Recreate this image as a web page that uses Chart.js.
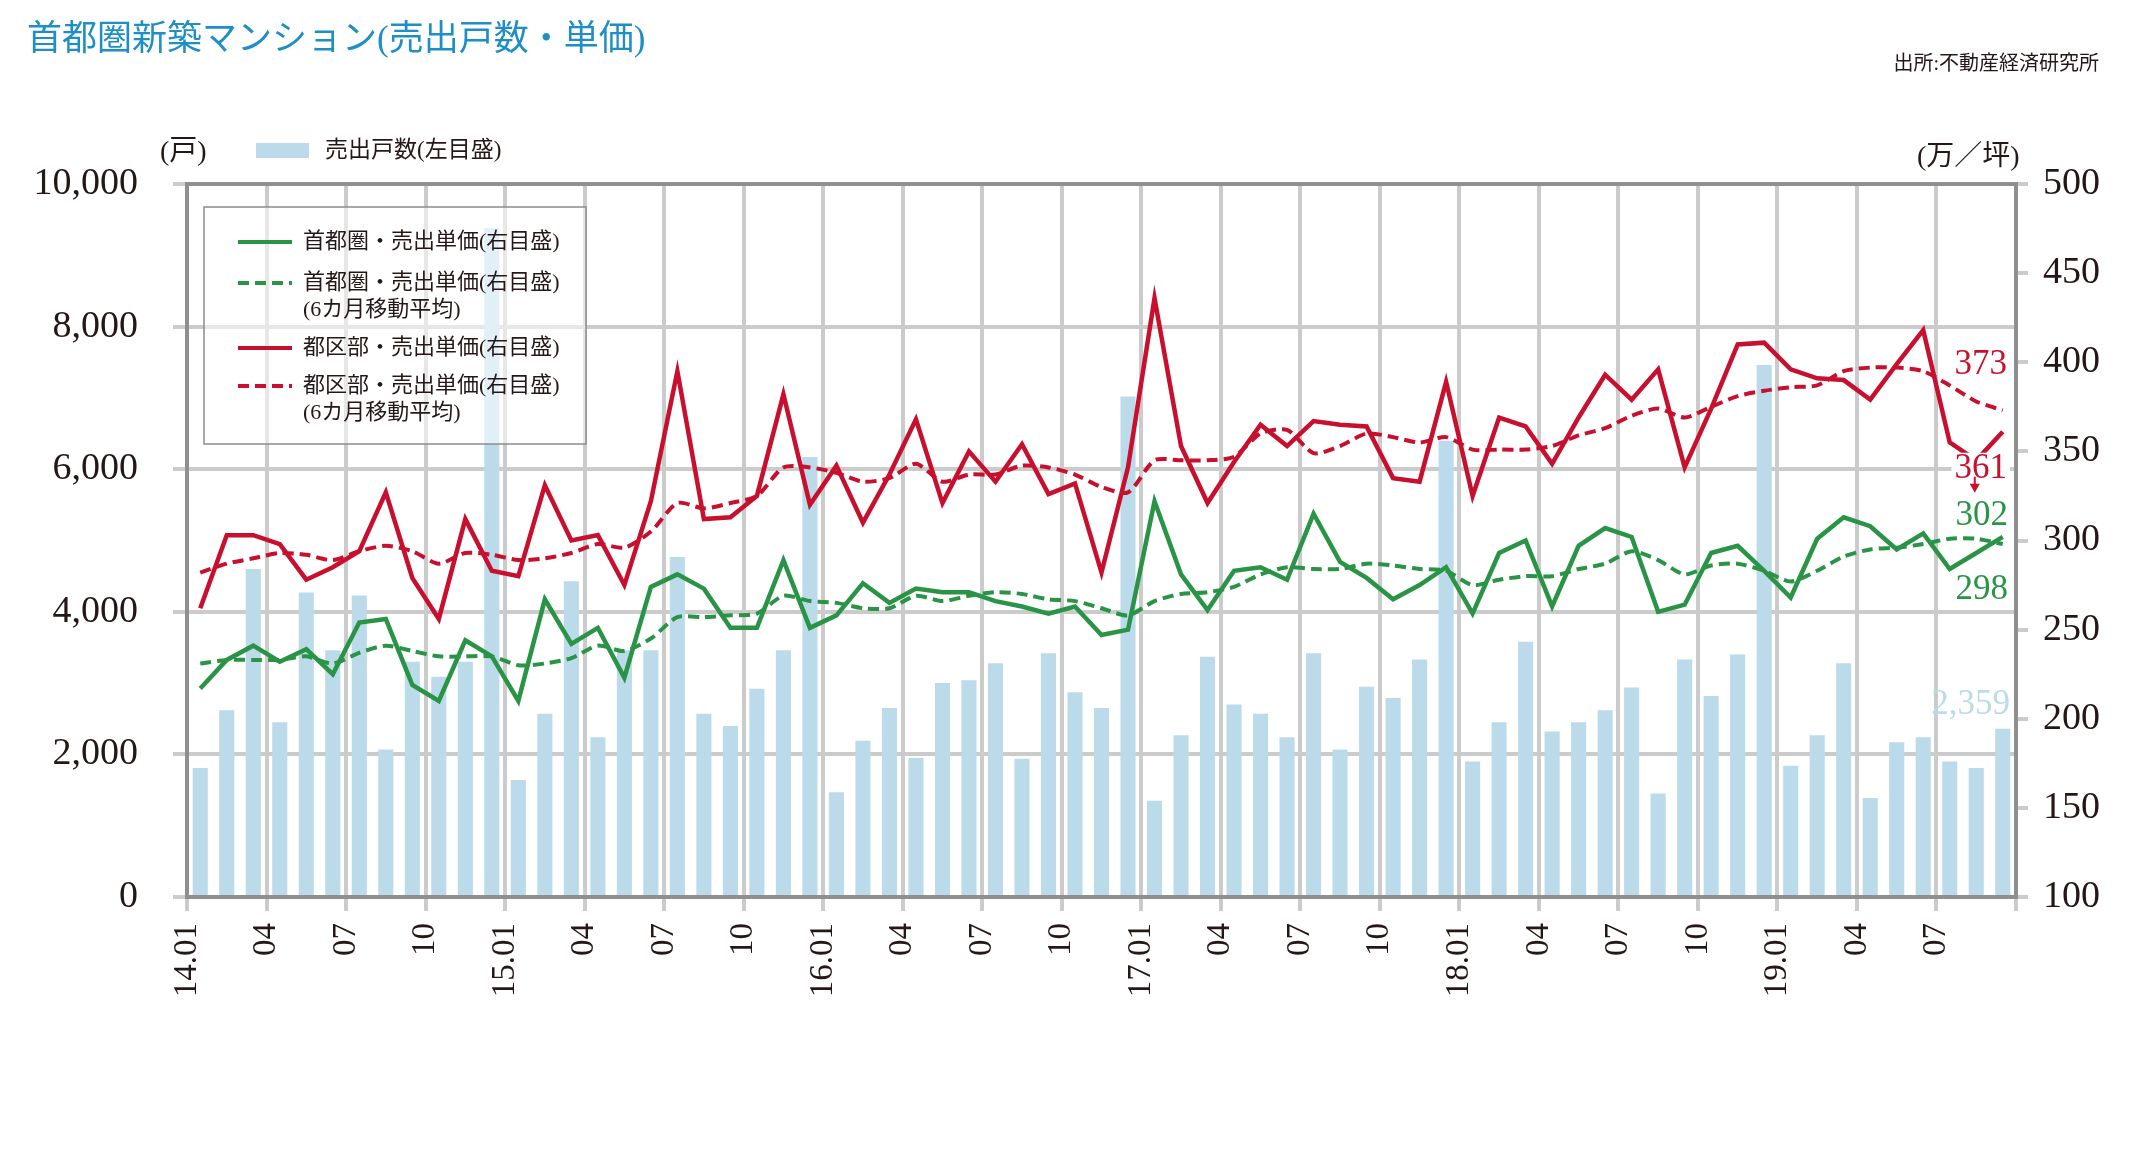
<!DOCTYPE html>
<html lang="ja">
<head>
<meta charset="utf-8">
<title>首都圏新築マンション(売出戸数・単価)</title>
<script src="https://cdn.jsdelivr.net/npm/chart.js@4.4.1/dist/chart.umd.min.js"></script>
<style>
  body { margin: 0; background: #fff; }
  canvas { display: block; }
</style>
</head>
<body>
<canvas id="chart" width="2130" height="1150"></canvas>
<script>
// months 2014.01 - 2019.09
const months = [
  '14.01','14.02','14.03','14.04','14.05','14.06','14.07','14.08','14.09','14.10','14.11','14.12',
  '15.01','15.02','15.03','15.04','15.05','15.06','15.07','15.08','15.09','15.10','15.11','15.12',
  '16.01','16.02','16.03','16.04','16.05','16.06','16.07','16.08','16.09','16.10','16.11','16.12',
  '17.01','17.02','17.03','17.04','17.05','17.06','17.07','17.08','17.09','17.10','17.11','17.12',
  '18.01','18.02','18.03','18.04','18.05','18.06','18.07','18.08','18.09','18.10','18.11','18.12',
  '19.01','19.02','19.03','19.04','19.05','19.06','19.07','19.08','19.09'
];
// one label every third month
const tickLabels = ['14.01','04','07','10','15.01','04','07','10','16.01','04','07','10',
  '17.01','04','07','10','18.01','04','07','10','19.01','04','07'];

// 売出戸数 (戸)
const units = [
  1810,2620,4600,2450,4270,3460,4230,2070,3300,3090,3300,9380,
  1640,2570,4430,2240,3460,3460,4770,2570,2400,2920,3460,6170,
  1470,2190,2650,1950,3000,3040,3280,1940,3420,2870,2650,7020,
  1350,2270,3370,2700,2570,2240,3420,2070,2950,2790,3330,6400,
  1900,2450,3580,2320,2450,2620,2940,1450,3330,2820,3400,7460,
  1840,2270,3280,1390,2170,2240,1900,1810,2359
];
// 首都圏・売出単価 (万/坪)
const metroPrice = [
  217,233,241,232,239,225,254,256,219,210,244,235,
  210,267,242,251,223,274,281,273,251,251,289,251,
  258,276,265,273,271,271,266,263,259,263,247,250,
  322,281,261,283,285,278,315,288,279,267,275,285,
  259,293,300,263,297,307,302,260,264,293,297,283,
  268,301,313,308,295,304,284,293,302
];
// 首都圏・売出単価 6カ月移動平均
const metroAvg = [
  231,233,233,233,235,231,237,241,238,235,235,235,
  230,231,234,241,238,245,257,257,258,259,269,266,
  265,262,262,269,266,269,271,270,267,266,262,258,
  266,270,271,274,281,285,284,284,287,286,284,283,
  275,278,280,280,284,287,294,289,281,286,287,283,
  277,283,291,295,296,298,301,301,298
];
// 都区部・売出単価 (万/坪)
const wardPrice = [
  262,303,303,298,278,285,294,327,279,256,312,283,
  280,331,300,303,275,322,395,312,313,325,382,320,
  342,310,337,368,321,350,333,354,326,332,282,341,
  436,353,321,344,365,353,367,365,364,335,333,389,
  325,369,364,343,369,393,379,396,341,374,410,411,
  396,391,390,379,399,418,355,345,361
];
// 都区部・売出単価 6カ月移動平均
const wardAvg = [
  282,287,290,293,292,289,294,297,294,287,293,292,
  289,290,293,298,296,305,321,318,321,325,341,341,
  338,333,335,343,333,337,337,342,341,337,330,327,
  345,345,345,347,360,362,349,353,360,358,355,358,
  351,351,351,353,359,363,370,374,369,375,381,384,
  386,387,395,397,397,395,387,378,373
];

const FONT = '"Liberation Serif", "Noto Sans CJK JP", serif';
const TEXT = '#231815';
const GREEN = '#2a9446';
const RED = '#c8102e';
const BAR = '#bcdbea';
const GRID = '#cbcbcb';
const DASH = [11, 6];

function pts(arr) {
  return arr.map((v, i) => ({ x: i + 0.5, y: v }));
}

const decor = {
  id: 'decor',
  beforeDraw(chart) {
    const ctx = chart.ctx;
    ctx.save();
    ctx.fillStyle = '#fff';
    ctx.fillRect(0, 0, chart.width, chart.height);
    ctx.restore();
  },
  afterDatasetsDraw(chart) {
    const ctx = chart.ctx, a = chart.chartArea;
    ctx.save();

    // legend box inside the plot
    ctx.fillStyle = 'rgba(255,255,255,0.55)';
    ctx.fillRect(204, 207, 382, 237);
    ctx.strokeStyle = '#8c8c8c';
    ctx.lineWidth = 1.5;
    ctx.strokeRect(204, 207, 382, 237);
    const rows = [
      { color: GREEN, dash: [], y: 242, lines: ['首都圏・売出単価(右目盛)'] },
      { color: GREEN, dash: DASH, y: 283, lines: ['首都圏・売出単価(右目盛)', '(6カ月移動平均)'] },
      { color: RED, dash: [], y: 348, lines: ['都区部・売出単価(右目盛)'] },
      { color: RED, dash: DASH, y: 386, lines: ['都区部・売出単価(右目盛)', '(6カ月移動平均)'] }
    ];
    ctx.font = '22px ' + FONT;
    ctx.textBaseline = 'middle';
    rows.forEach(r => {
      ctx.strokeStyle = r.color;
      ctx.lineWidth = 4;
      ctx.setLineDash(r.dash);
      ctx.beginPath();
      ctx.moveTo(238, r.y);
      ctx.lineTo(292, r.y);
      ctx.stroke();
      ctx.setLineDash([]);
      ctx.fillStyle = TEXT;
      r.lines.forEach((t, k) => ctx.fillText(t, 303, r.y + k * 27));
    });

    // plot frame
    ctx.strokeStyle = '#8f8f8f';
    ctx.lineWidth = 4;
    ctx.strokeRect(a.left, a.top, a.right - a.left, a.bottom - a.top);

    // latest values
    const last = (idx) => chart.getDatasetMeta(idx).data[units.length - 1];
    ctx.font = '35px ' + FONT;
    ctx.textAlign = 'right';
    const tx = a.right - 9;
    const pRA = last(4), pR = last(3), pG = last(1), pGA = last(2), pB = last(0);

    ctx.fillStyle = RED;
    ctx.fillText(String(wardAvg[wardAvg.length - 1]), tx, pRA.y - 46);

    const y361 = pR.y + 37;
    const w361 = ctx.measureText('361').width;
    ctx.fillStyle = '#fff';
    ctx.fillRect(tx - w361 - 3, y361 - 16, w361 + 6, 32);
    ctx.fillStyle = RED;
    ctx.fillText(String(wardPrice[wardPrice.length - 1]), tx, y361);
    // small arrow under 361
    const ax = tx - w361 / 2 - 6, ay = pR.y + 57;
    ctx.beginPath();
    ctx.moveTo(ax - 5, ay - 5);
    ctx.lineTo(ax + 5, ay - 5);
    ctx.lineTo(ax, ay + 4);
    ctx.closePath();
    ctx.fill();
    ctx.fillRect(ax - 1, ay - 12, 2, 8);

    ctx.fillStyle = GREEN;
    ctx.fillText(String(metroPrice[metroPrice.length - 1]), tx + 1, pG.y - 21);
    ctx.fillText(String(metroAvg[metroAvg.length - 1]), tx + 1, pGA.y + 46);

    ctx.fillStyle = BAR;
    ctx.fillText(units[units.length - 1].toLocaleString('en-US'), tx + 3, pB.y - 24);
    ctx.restore();
  },
  afterDraw(chart) {
    const ctx = chart.ctx;
    ctx.save();
    ctx.textBaseline = 'middle';

    ctx.fillStyle = '#1e8fc6';
    ctx.font = '35px ' + FONT;
    ctx.fillText('首都圏新築マンション(売出戸数・単価)', 27, 41);

    ctx.fillStyle = TEXT;
    ctx.font = '20px ' + FONT;
    ctx.textAlign = 'right';
    ctx.fillText('出所:不動産経済研究所', 2099, 65);

    ctx.textAlign = 'left';
    ctx.font = '28px ' + FONT;
    ctx.fillText('(戸)', 160, 153);
    ctx.fillText('(万／坪)', 1917, 158);

    ctx.fillStyle = BAR;
    ctx.fillRect(256, 143, 53, 15);
    ctx.fillStyle = TEXT;
    ctx.font = '23px ' + FONT;
    ctx.fillText('売出戸数(左目盛)', 325, 151);
    ctx.restore();
  }
};

new Chart(document.getElementById('chart'), {
  type: 'bar',
  data: {
    datasets: [
      {
        type: 'bar', label: '売出戸数(左目盛)', data: pts(units), yAxisID: 'y',
        backgroundColor: BAR, barPercentage: 0.6, categoryPercentage: 0.95, order: 10
      },
      {
        type: 'line', label: '首都圏・売出単価(右目盛)', data: pts(metroPrice), yAxisID: 'y2',
        borderColor: GREEN, borderWidth: 4.5, pointRadius: 0, tension: 0, order: 2
      },
      {
        type: 'line', label: '首都圏・売出単価(6カ月移動平均)', data: pts(metroAvg), yAxisID: 'y2',
        borderColor: GREEN, borderWidth: 4, borderDash: DASH, pointRadius: 0, tension: 0.25, order: 3
      },
      {
        type: 'line', label: '都区部・売出単価(右目盛)', data: pts(wardPrice), yAxisID: 'y2',
        borderColor: RED, borderWidth: 4.5, pointRadius: 0, tension: 0, order: 0
      },
      {
        type: 'line', label: '都区部・売出単価(6カ月移動平均)', data: pts(wardAvg), yAxisID: 'y2',
        borderColor: RED, borderWidth: 4, borderDash: DASH, pointRadius: 0, tension: 0.25, order: 1
      }
    ]
  },
  options: {
    responsive: false,
    animation: false,
    devicePixelRatio: 1,
    layout: { padding: { top: 184, left: 0, right: 0, bottom: 0 } },
    plugins: { legend: { display: false }, tooltip: { enabled: false } },
    scales: {
      x: {
        type: 'linear', min: 0, max: months.length, offset: false,
        afterFit: (s) => { s.height = 253; },
        grid: { color: GRID, lineWidth: 4, tickLength: 14, offset: false },
        border: { display: false },
        ticks: {
          stepSize: 3, autoSkip: false, maxRotation: 90, minRotation: 90, padding: 12,
          color: TEXT, font: { family: FONT, size: 33 },
          callback: (v) => tickLabels[v / 3] ?? ''
        }
      },
      y: {
        position: 'left', min: 0, max: 10000,
        afterFit: (s) => { s.width = 187; },
        grid: { color: GRID, lineWidth: 4, tickLength: 14 },
        border: { display: false },
        ticks: {
          stepSize: 2000, padding: 35, color: TEXT, font: { family: FONT, size: 38 },
          callback: (v) => v.toLocaleString('en-US')
        }
      },
      y2: {
        position: 'right', min: 100, max: 500,
        afterFit: (s) => { s.width = 114; },
        grid: { drawOnChartArea: false, color: GRID, lineWidth: 4, tickLength: 12 },
        border: { display: false },
        ticks: { stepSize: 50, padding: 15, color: TEXT, font: { family: FONT, size: 38 } }
      }
    }
  },
  plugins: [decor]
});
</script>
</body>
</html>
